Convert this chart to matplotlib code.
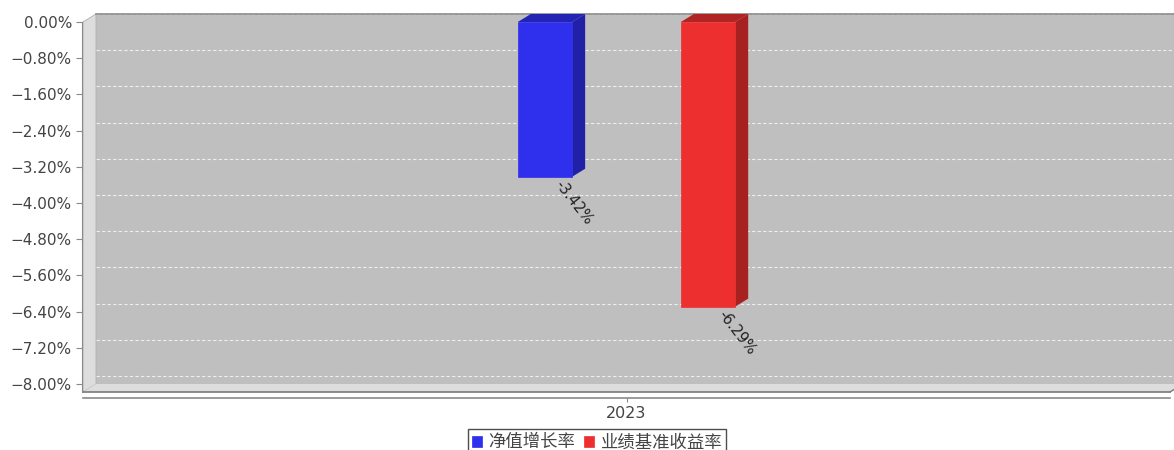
import matplotlib
matplotlib.use('Agg')
from matplotlib import pyplot as plt
from matplotlib.patches import Polygon, Rectangle
from matplotlib.ticker import FixedLocator, FuncFormatter
import numpy as np

plt.rcParams['font.family'] = ['DejaVu Sans', 'Noto Sans CJK SC']

categories = ['2023']
series_names = ['净值增长率', '业绩基准收益率']
series_values = [-3.42, -6.29]
value_labels = ['-3.42%', '-6.29%']
y_ticks = [0.0, -0.8, -1.6, -2.4, -3.2, -4.0, -4.8, -5.6, -6.4, -7.2, -8.0]

front_colors = ['#2f2fee', '#ee2f2f']
side_colors = ['#2121a8', '#a82121']
top_colors = ['#2424b4', '#b02424']

W, H = 1174, 450
fig = plt.figure(figsize=(W / 100, H / 100), dpi=100)

# front plane of the 3d plot area, in pixels
left, right, top, bottom = 83, 1170, 22, 392
ax = fig.add_axes([left / W, 1 - bottom / H, (right - left) / W, (bottom - top) / H])
ax.set_facecolor('none')

x0, x1 = -0.5, 0.5
y0, y1 = -8.177, 0.0
ax.set_xlim(x0, x1)
ax.set_ylim(y0, y1)

# 3d depth offset (pixels -> data units)
dx = 13 / (right - left) * (x1 - x0)
dy = 8 / (bottom - top) * (y1 - y0)

wall = '#bfbfbf'
side_wall = '#dddddd'

# back wall
ax.add_patch(Rectangle((x0 + dx, y0 + dy), (x1 - x0) + 0.05, y1 - y0,
                       facecolor=wall, edgecolor='none', clip_on=False, zorder=0))
ax.plot([x0 + dx, x1 + 0.1], [y1 + dy, y1 + dy], color='#8a8a8a', lw=1.2,
        clip_on=False, zorder=1)
# left wall
ax.add_patch(Polygon([(x0, y0), (x0, y1), (x0 + dx, y1 + dy), (x0 + dx, y0 + dy)],
                     closed=True, facecolor=side_wall, edgecolor='#b0b0b0', lw=0.6,
                     clip_on=False, zorder=0.5))
# floor
ax.add_patch(Polygon([(x0, y0), (x1, y0), (x1 + dx, y0 + dy), (x0 + dx, y0 + dy)],
                     closed=True, facecolor=side_wall, edgecolor='none',
                     clip_on=False, zorder=0.5))
ax.plot([x0, x1], [y0, y0], color='#7a7a7a', lw=1.2, clip_on=False, zorder=1)
ax.plot([x1, x1 + dx], [y0, y0 + dy], color='#7a7a7a', lw=1.0, clip_on=False, zorder=1)

# gridlines on back wall
for t in y_ticks:
    ax.plot([x0 + dx, x1 + 0.1], [t + dy, t + dy], color='white', lw=0.8,
            ls=(0, (3, 2)), alpha=0.75, clip_on=False, zorder=0.8)

# bars
bar_w = 0.05
offsets = [-0.075, 0.075]
cat_x = np.arange(len(categories))
for i, (name, v) in enumerate(zip(series_names, series_values)):
    xc = cat_x[0] + offsets[i]
    xl = xc - bar_w / 2
    xr = xc + bar_w / 2
    ax.bar(xc, v, width=bar_w, color=front_colors[i], edgecolor=front_colors[i],
           lw=0.5, zorder=3, label=name)
    ax.add_patch(Polygon([(xr, 0), (xr, v), (xr + dx, v + dy), (xr + dx, dy)],
                         closed=True, facecolor=side_colors[i], edgecolor='none',
                         clip_on=False, zorder=2.5))
    ax.add_patch(Polygon([(xl, 0), (xr, 0), (xr + dx, dy), (xl + dx, dy)],
                         closed=True, facecolor=top_colors[i], edgecolor='none',
                         clip_on=False, zorder=2.5))
    ax.text(xc + dx, v - 0.12, value_labels[i], rotation=-52, rotation_mode='anchor',
            ha='left', va='center', fontsize=10.5, color='#222222', zorder=4)

# axes styling
for s in ['top', 'right']:
    ax.spines[s].set_visible(False)
ax.spines['left'].set_color('#8a8a8a')
ax.spines['left'].set_position(('outward', 1))
ax.spines['bottom'].set_color('#8a8a8a')
ax.spines['bottom'].set_position(('outward', 4))
ax.spines['bottom'].set_linewidth(1.2)

ax.yaxis.set_major_locator(FixedLocator(y_ticks))
ax.yaxis.set_major_formatter(FuncFormatter(lambda v, p: f'{v:.2f}%'.replace('-', '\u2212')))
ax.set_xticks(cat_x)
ax.set_xticklabels(categories)
ax.tick_params(axis='y', length=4, width=0.8, color='#8a8a8a', pad=3,
               labelsize=11, labelcolor='#444444')
ax.tick_params(axis='x', length=3, width=0.8, color='#8a8a8a', pad=3,
               labelsize=11.5, labelcolor='#444444')

handles, labels = ax.get_legend_handles_labels()
leg = fig.legend(handles, labels, loc='upper center', bbox_to_anchor=(597 / W, 1 - 429 / H),
                 ncol=2, frameon=True, fancybox=False, edgecolor='#222222',
                 handlelength=0.6, handleheight=0.6, handletextpad=0.35,
                 columnspacing=0.5, borderpad=0.25, borderaxespad=0,
                 prop={'family': ['Noto Sans CJK SC', 'DejaVu Sans'], 'size': 12.5})
leg.get_frame().set_linewidth(1.0)
for t in leg.get_texts():
    t.set_color('#444444')

fig.savefig('out.png', dpi=100, facecolor='white')
